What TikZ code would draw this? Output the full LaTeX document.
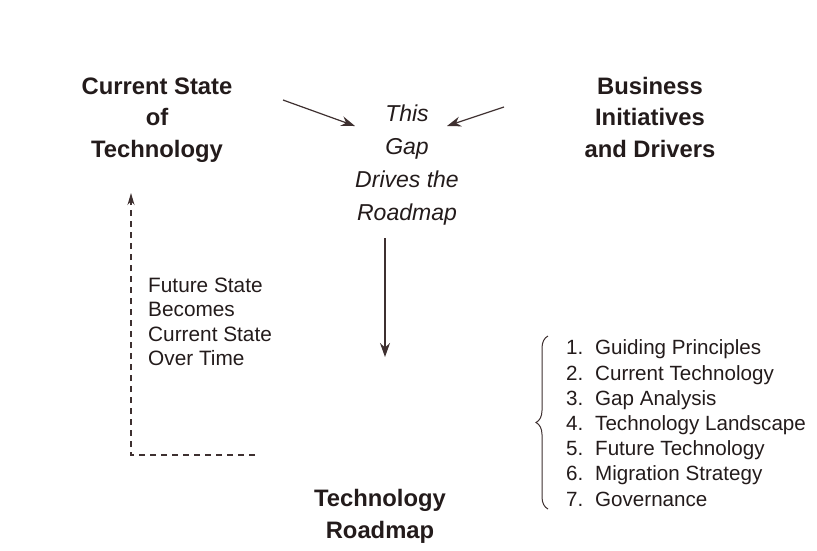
\documentclass[tikz,border=0pt]{standalone}
\usepackage{fontspec}
\setmainfont{Liberation Sans}
\usetikzlibrary{arrows.meta,decorations.pathreplacing}
\definecolor{ink}{HTML}{231B1B}
\definecolor{arr}{HTML}{3E3030}
\begin{document}
\begin{tikzpicture}[x=1pt,y=-1pt,
  title/.style={font=\fontsize{23.8}{31.5}\selectfont\bfseries, align=center, inner sep=0pt, text=ink, anchor=base},
  gaptext/.style={font=\fontsize{23}{33}\selectfont\itshape, align=center, inner sep=0pt, text=ink, anchor=base},
  note/.style={font=\fontsize{20.8}{24.5}\selectfont, align=left, inner sep=0pt, text=ink, anchor=base west},
  listtext/.style={font=\fontsize{20.6}{25.2}\selectfont, align=left, inner sep=0pt, text=ink, anchor=base west},
  conn/.style={draw=arr, line width=1.2pt, -{Stealth[length=14pt,width=10pt]}},
  dashconn/.style={draw=arr, line width=1.1pt, dash pattern=on 6pt off 5pt, -{Stealth[length=12pt,width=7pt]}},
]
\useasboundingbox (0,0) rectangle (817,550);

\node[title] (cur) at (157,157) {Current State\\of\\Technology};
\node[title] (bus) at (650,157) {Business\\Initiatives\\and Drivers};
\node[gaptext] (gap) at (407,220) {This\\Gap\\Drives the\\Roadmap};
\node[title] (road) at (380,538) {Technology\\Roadmap};
\node[note] (fut) at (148,365.5) {Future State\\Becomes\\Current State\\Over Time};
\node[listtext] (list) at (566,506) {%
\makebox[29pt][l]{1.}Guiding Principles\\
\makebox[29pt][l]{2.}Current Technology\\
\makebox[29pt][l]{3.}Gap Analysis\\
\makebox[29pt][l]{4.}Technology Landscape\\
\makebox[29pt][l]{5.}Future Technology\\
\makebox[29pt][l]{6.}Migration Strategy\\
\makebox[29pt][l]{7.}Governance};

\coordinate (l1) at (283,100);
\coordinate (l2) at (355,126);
\coordinate (r1) at (504,107);
\coordinate (r2) at (447,126);
\coordinate (d1) at (385,238);
\coordinate (d2) at (385,357);
\coordinate (f1) at (255,455);
\coordinate (fc) at (131,455);
\coordinate (f2) at (131,193);
\coordinate (b1) at (548,509);
\coordinate (b2) at (548,336);

\draw[conn] (l1) -- (l2);
\draw[conn] (r1) -- (r2);
\draw[conn] (d1) -- (d2);
\draw[dashconn] (f1) -- (fc) -- (f2);
\draw[draw=arr, line width=1pt, decorate, decoration={brace, amplitude=12pt}] (b1) -- (b2);
\end{tikzpicture}
\end{document}
